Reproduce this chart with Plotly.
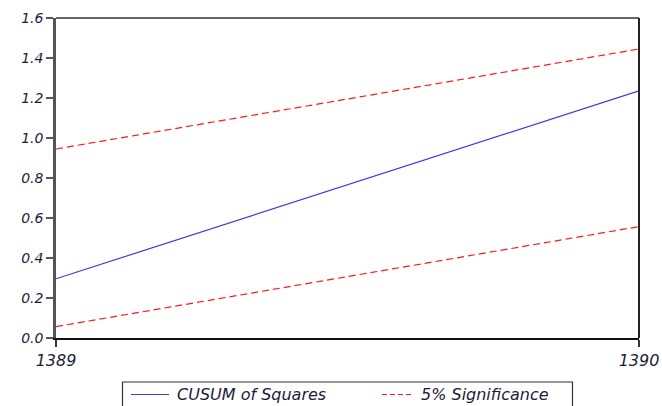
import plotly.graph_objects as go

years = [1389, 1390]
cusum_sq = [0.296, 1.236]
upper_5pct = [0.945, 1.445]
lower_5pct = [0.057, 0.557]
x_ticks = [1389, 1390]
y_ticks = [0.0, 0.2, 0.4, 0.6, 0.8, 1.0, 1.2, 1.4, 1.6]
legend_names = ["CUSUM of Squares", "5% Significance"]

FONT = "DejaVu Sans"
TXT = "#1c1c38"
BLUE = "#3a3ad8"
RED = "#ff1a1a"
DASH = "7px,4px"

# plot area in pixels (for converting legend placement to paper coords)
L, R, T, B = 56, 639, 18, 338
def px(x):
    return (x - L) / (R - L)
def py(y):
    return (B - y) / (B - T)

fig = go.Figure()
fig.add_trace(go.Scatter(x=years, y=cusum_sq, mode="lines", name=legend_names[0],
                         line=dict(color=BLUE, width=1.2)))
fig.add_trace(go.Scatter(x=years, y=upper_5pct, mode="lines", name=legend_names[1],
                         line=dict(color=RED, width=1.2, dash=DASH)))
fig.add_trace(go.Scatter(x=years, y=lower_5pct, mode="lines", name=legend_names[1],
                         line=dict(color=RED, width=1.2, dash=DASH)))

leg_y = 394.5
fig.update_layout(
    width=662, height=406,
    margin=dict(l=L, r=662 - R, t=T, b=406 - B),
    paper_bgcolor="white", plot_bgcolor="white",
    showlegend=False,
    xaxis=dict(range=[1389, 1390], tickvals=x_ticks, ticktext=[str(v) for v in x_ticks],
               automargin=False,
               showgrid=False, zeroline=False, showline=True, linecolor="#111111",
               linewidth=2, ticks="outside", ticklen=7, tickcolor="#333333", tickwidth=1.5,
               tickfont=dict(family=FONT, size=16, color=TXT, style="italic")),
    yaxis=dict(range=[0, 1.6], tickvals=y_ticks, tickformat=".1f",
               automargin=False,
               showgrid=False, zeroline=False, showline=True, linecolor="#555555",
               linewidth=2.5, ticks="outside", ticklen=7, tickcolor="#555555", tickwidth=1.5,
               tickfont=dict(family=FONT, size=14, color=TXT, style="italic")),
    shapes=[
        dict(type="line", xref="paper", yref="paper", x0=0, x1=1, y0=1, y1=1,
             line=dict(color="#333333", width=1.5)),
        dict(type="line", xref="paper", yref="paper", x0=1, x1=1, y0=0, y1=1,
             line=dict(color="#222222", width=2)),
        # legend box
        dict(type="rect", xref="paper", yref="paper",
             x0=px(122.5), x1=px(572.5), y0=py(420), y1=py(382),
             line=dict(color="#333333", width=1.2), fillcolor="white"),
        dict(type="line", xref="paper", yref="paper",
             x0=px(131), x1=px(169), y0=py(leg_y), y1=py(leg_y),
             line=dict(color=BLUE, width=1.2)),
        dict(type="line", xref="paper", yref="paper",
             x0=px(382), x1=px(411), y0=py(leg_y), y1=py(leg_y),
             line=dict(color=RED, width=1.2, dash="5px,3px")),
    ],
    annotations=[
        dict(text=legend_names[0], xref="paper", yref="paper", x=px(175), y=py(leg_y),
             xanchor="left", yanchor="middle", showarrow=False,
             font=dict(family=FONT, size=16, color=TXT, style="italic")),
        dict(text=legend_names[1], xref="paper", yref="paper", x=px(419), y=py(leg_y),
             xanchor="left", yanchor="middle", showarrow=False,
             font=dict(family=FONT, size=16, color=TXT, style="italic")),
    ],
)

fig.write_html("out.html", config={"displayModeBar": False},
               post_script="document.body.style.margin='0';document.body.style.overflow='hidden';")
